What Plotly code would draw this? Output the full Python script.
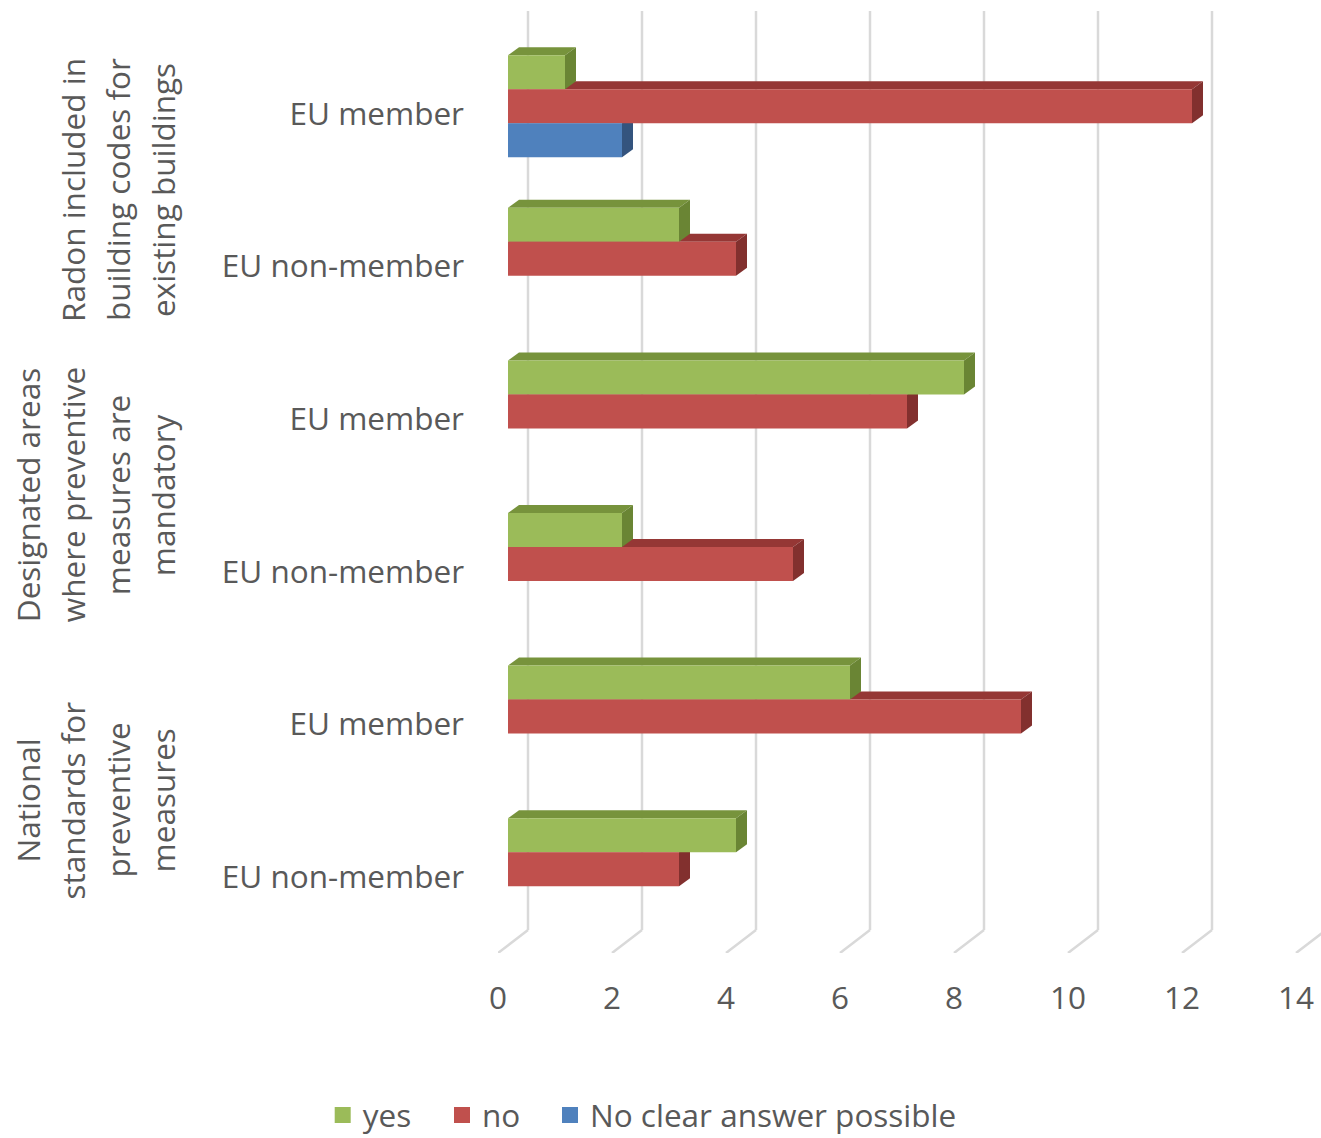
import plotly.graph_objects as go

# ---------------- data ----------------
groups = [
    ["Radon included in", "building codes for", "existing buildings"],
    ["Designated areas", "where preventive", "measures are", "mandatory"],
    ["National", "standards for", "preventive", "measures"],
]
categories = ["EU member", "EU non-member",
              "EU member", "EU non-member",
              "EU member", "EU non-member"]
series_names = ["yes", "no", "No clear answer possible"]
yes_vals = [1, 3, 8, 2, 6, 4]
no_vals = [12, 4, 7, 5, 9, 3]
unclear_vals = [2, 0, 0, 0, 0, 0]
x_ticks = [0, 2, 4, 6, 8, 10, 12, 14]

# ---------------- style ----------------
W, H = 1321, 1138
L, R, T, B = 498, 0, 11, 185
PX_X = 57.0           # pixels per unit on x
PX_Y = 152.6          # pixels per category on y
front_colors = ["#9BBB59", "#C0504D", "#4F81BD"]
top_colors = ["#77933C", "#953735", "#3A5F8E"]
side_colors = ["#6A8534", "#82302E", "#34547E"]
TXT = "#595959"
GRID = "#D9D9D9"
FONT = "Open Sans"
FS = 31.5
legend_centers_px = [342.7, 462, 570]   # x-centre of each legend swatch
legend_y_px = 1115

plot_w = W - L - R
plot_h = H - T - B
x_max = plot_w / PX_X
y_top = 5.5 - plot_h / PX_Y       # reversed axis: range [5.5, y_top]

# depth offsets (front plane -> bar plane -> back plane)
bar_dx, bar_dy = 10 / PX_X, 7.5 / PX_Y
depth_dx, depth_dy = 11 / PX_X, 8 / PX_Y
back_dx, back_dy = 30 / PX_X, 23 / PX_Y

bar_w = 0.2228
group_w = 3 * bar_w

positions = list(range(len(categories)))
series = [yes_vals, no_vals, unclear_vals]
legend_ids = ["legend", "legend2", "legend3"]

fig = go.Figure()

for i, (name, vals) in enumerate(zip(series_names, series)):
    fig.add_trace(go.Bar(
        y=positions, x=vals, orientation="h", name=name,
        width=bar_w, offset=-group_w / 2 + i * bar_w,
        marker=dict(color=front_colors[i], line=dict(width=0)),
        xaxis="x2", yaxis="y2", showlegend=False, hoverinfo="x+name",
    ))

# legend entries (one legend box per series, to match spacing)
for i, name in enumerate(series_names):
    fig.add_trace(go.Scatter(
        x=[None], y=[None], mode="markers", name=name, legend=legend_ids[i],
        marker=dict(symbol="square", size=16, color=front_colors[i]),
    ))

shapes = []
# gridlines on back wall + floor diagonals
for v in x_ticks:
    shapes.append(dict(type="line", xref="x", yref="y",
                       x0=v + back_dx, x1=v + back_dx,
                       y0=y_top, y1=5.5 - back_dy,
                       line=dict(color=GRID, width=2.5), layer="below"))
    shapes.append(dict(type="line", xref="x", yref="y",
                       x0=v, x1=v + back_dx, y0=5.5, y1=5.5 - back_dy,
                       line=dict(color=GRID, width=2.5), layer="below"))

# 3D faces of bars (drawn lowest bar first), in front-axis coordinates
for k in positions:
    for i in reversed(range(3)):
        v = series[i][k]
        if not v:
            continue
        x0 = bar_dx
        x1 = v + bar_dx
        yt = k - group_w / 2 + i * bar_w - bar_dy
        yb = yt + bar_w
        top = (f"M{x0},{yt} L{x1},{yt} L{x1 + depth_dx},{yt - depth_dy} "
               f"L{x0 + depth_dx},{yt - depth_dy} Z")
        side = (f"M{x1},{yt} L{x1 + depth_dx},{yt - depth_dy} "
                f"L{x1 + depth_dx},{yb - depth_dy} L{x1},{yb} Z")
        shapes.append(dict(type="path", path=top, xref="x", yref="y",
                           fillcolor=top_colors[i], line=dict(width=0),
                           layer="between"))
        shapes.append(dict(type="path", path=side, xref="x", yref="y",
                           fillcolor=side_colors[i], line=dict(width=0),
                           layer="between"))

# group labels (rotated, one annotation per line)
annotations = []
line_gap = 45
last_center = 162
for g, lines in enumerate(groups):
    yc = 2 * g + 0.5
    n = len(lines)
    for j, txt in enumerate(lines):
        px = last_center - (n - 1 - j) * line_gap
        annotations.append(dict(
            text=txt, xref="paper", yref="y",
            x=(px - L) / plot_w, y=yc, xanchor="center", yanchor="middle",
            textangle=-90, showarrow=False,
            font=dict(family=FONT, size=FS, color=TXT),
        ))

legend_common = dict(orientation="h", xanchor="left", yanchor="middle",
                     y=(953 - legend_y_px) / plot_h,
                     font=dict(family=FONT, size=FS, color=TXT),
                     itemsizing="trace", bgcolor="rgba(0,0,0,0)")
legends = {}
for i, lid in enumerate(legend_ids):
    legends[lid] = dict(legend_common, x=(legend_centers_px[i] - 20 - L) / plot_w)

fig.update_layout(
    width=W, height=H,
    margin=dict(l=L, r=R, t=T, b=B, pad=0, autoexpand=False),
    paper_bgcolor="white", plot_bgcolor="white",
    barmode="overlay",
    font=dict(family=FONT, size=FS, color=TXT),
    xaxis=dict(range=[0, x_max], tickvals=x_ticks, ticktext=[str(t) for t in x_ticks],
               showgrid=False, zeroline=False, showline=False, ticks="",
               ticklabelstandoff=23, tickfont=dict(family=FONT, size=FS, color=TXT)),
    yaxis=dict(range=[5.5, y_top], tickvals=positions, ticktext=categories,
               showgrid=False, zeroline=False, showline=False, ticks="",
               ticklabelstandoff=33, tickfont=dict(family=FONT, size=FS, color=TXT)),
    xaxis2=dict(range=[-bar_dx, x_max - bar_dx], overlaying="x", visible=False),
    yaxis2=dict(range=[5.5 + bar_dy, y_top + bar_dy], overlaying="y", visible=False),
    shapes=shapes,
    annotations=annotations,
    showlegend=True,
    **legends,
)

fig.write_html("out.html")
